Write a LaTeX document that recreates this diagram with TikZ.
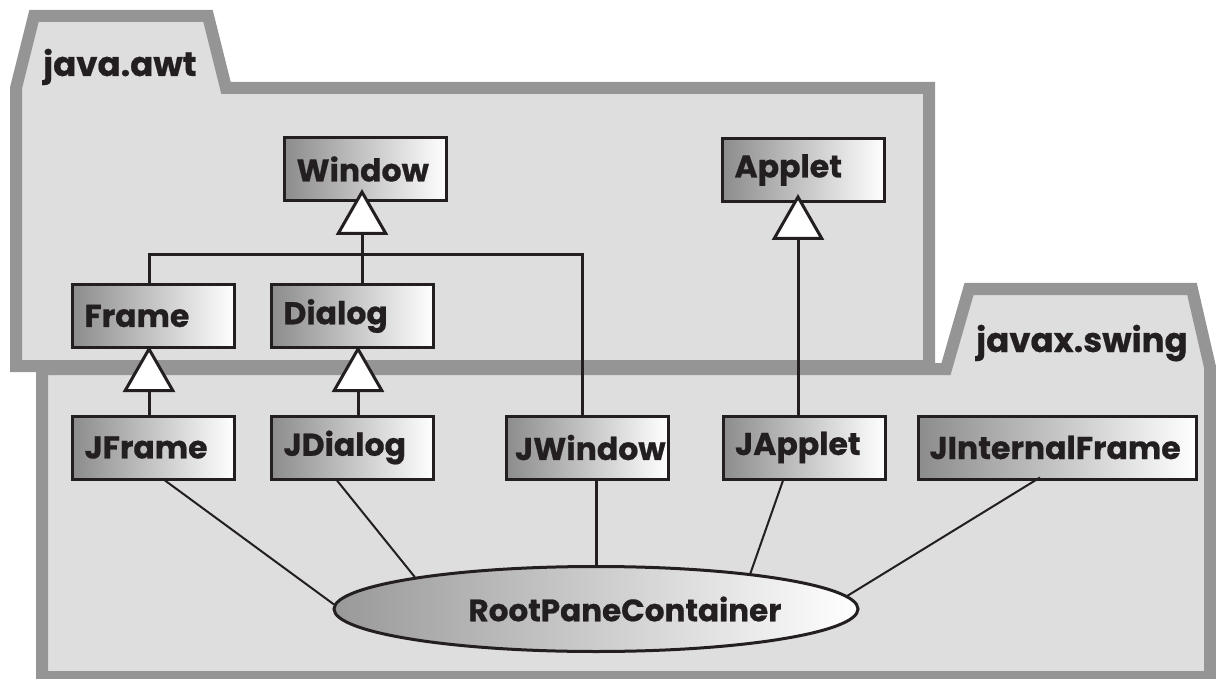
\documentclass[tikz,border=0pt]{standalone}
\usepackage{fontspec}
\setmainfont{Poppins}[BoldFeatures={FakeBold=0.6}]
\usetikzlibrary{arrows.meta,shapes.geometric,calc}
\definecolor{pkgfill}{HTML}{DEDEDE}
\definecolor{pkgline}{HTML}{959595}
\definecolor{ink}{HTML}{231F20}
\begin{document}
\begin{tikzpicture}[x=1pt,y=-1pt,
  pkg/.style={draw=pkgline, fill=pkgfill, line width=12pt, line join=miter},
  pkglabel/.style={anchor=base west, inner sep=0pt, text=ink, font=\fontsize{34}{40}\selectfont\bfseries},
  cls/.style={draw=ink, line width=3pt, left color=black!45, right color=white,
    minimum height=63pt, inner xsep=12pt, inner ysep=0pt, text width=#1, align=left,
    text=ink, font=\fontsize{31.5}{38}\selectfont\bfseries},
  cls/.default=138pt,
  gen/.style={draw=ink, line width=3pt},
  gentip/.style={-{Triangle[length=46pt, width=52pt, fill=white, line join=miter]}},
  assoc/.style={draw=ink, line width=2pt},
  iface/.style={ellipse, draw=ink, line width=3pt, left color=black!40, right color=white,
    minimum width=524pt, minimum height=85pt, inner sep=0pt},
  ifacelabel/.style={inner sep=0pt, text=ink, font=\fontsize{31}{36}\selectfont\bfseries}
]
\useasboundingbox (0,0) rectangle (1216,679);
\clip (0,0) rectangle (1216,679);

% packages
\draw[pkg] (42,369) -- (42,677) -- (1210,677) -- (1210,367) -- (1192,289) -- (969,289) -- (946,369) -- cycle;
\draw[pkg] (16,366) -- (16,88) -- (34,16) -- (208,16) -- (226,88) -- (929,88) -- (929,366) -- cycle;
\node[pkglabel] (awtlabel) at (43,76) {java.awt};
\node[pkglabel] (swinglabel) at (976,352) {javax.swing};

% classes
\node[cls] (window) at (365.5,169) {Window};
\node[cls] (applet) at (803.5,170) {Applet};
\node[cls] (frame) at (153.5,316) {Frame};
\node[cls] (dialog) at (352.5,316) {Dialog};
\node[cls] (jframe) at (153.5,447.5) {JFrame};
\node[cls] (jdialog) at (352.5,447.5) {JDialog};
\node[cls=144pt, inner xsep=9pt] (jwindow) at (587,447.5) {JWindow};
\node[cls] (japplet) at (804,447.5) {JApplet};
\node[cls=256pt, inner xsep=11pt] (jif) at (1057.5,447.5) {JInternalFrame};

% interface
\node[iface] (root) at (596,609) {};
\node[ifacelabel] (rootlabel) at (625,609) {RootPaneContainer};

% generalizations
\coordinate (bar) at ($(window.south)+(-3.5,53)$);
\draw[gen] ($(frame.north)+(-4.5,0)$) |- (bar);
\draw[gen] ($(jwindow.north)+(-5,0)$) |- (bar);
\draw[gen, gentip] ($(dialog.north)+(9.5,0)$) -- ($(window.south)+(-3.5,-13)$);
\draw[gen, gentip] ($(jframe.north)+(-4.5,0)$) -- ($(frame.south)+(-4.5,-3)$);
\draw[gen, gentip] ($(jdialog.north)+(5.5,0)$) -- ($(dialog.south)+(5.5,-3)$);
\draw[gen, gentip] ($(japplet.north)+(-6,0)$) -- ($(applet.south)+(-5.5,-9)$);

% associations
\draw[assoc] ($(jframe.south)+(11.5,0)$) -- (root.179);
\draw[assoc] ($(jdialog.south)+(-15.5,0)$) -- (root.170);
\draw[assoc, line width=3pt] ($(jwindow.south)+(9,0)$) -- (root.north);
\draw[assoc] ($(japplet.south)+(-21,0)$) -- (root.13.6);
\draw[assoc] ($(jif.south)+(-17.5,-3)$) -- (root.3.8);
\end{tikzpicture}
\end{document}
